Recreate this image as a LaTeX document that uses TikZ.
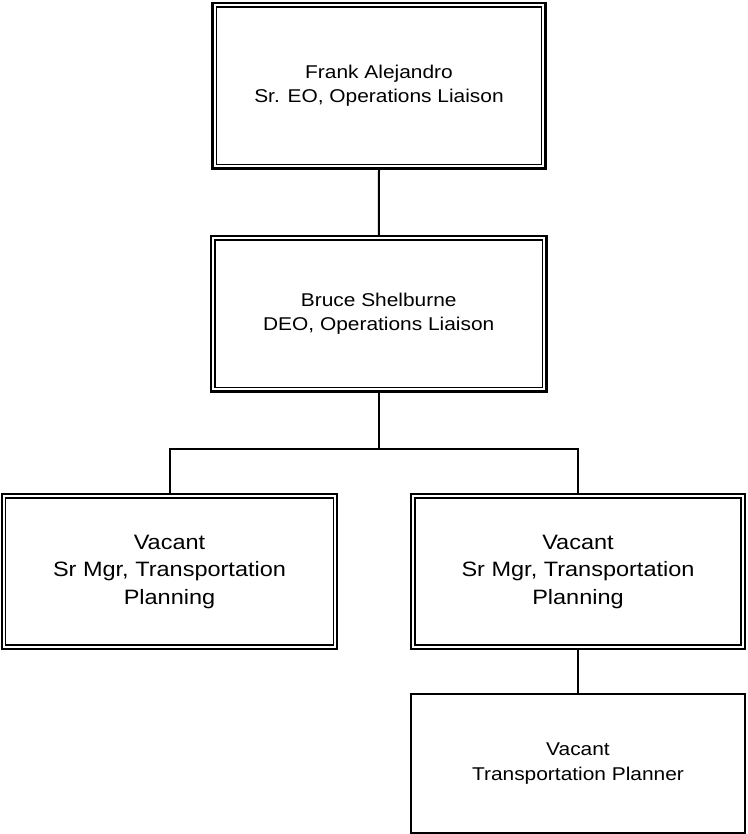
\documentclass[tikz,border=0pt]{standalone}
\usepackage{fontspec}
\setmainfont{Liberation Sans}
\newfontfamily\boxfont[FakeStretch=1.13]{Liberation Sans}
\begin{document}
\begin{tikzpicture}[x=1pt,y=-1pt,
  dbox/.style={draw, line width=2.2pt, inner sep=0pt, align=center,
    font=\boxfont\fontsize{18.5}{24}\selectfont},
  vbox/.style={dbox, font=\boxfont\fontsize{20.8}{27.5}\selectfont},
  sbox/.style={draw, line width=2pt, inner sep=0pt, align=center,
    font=\boxfont\fontsize{18.5}{25}\selectfont},
  innerline/.style={line width=1.6pt},
  conn/.style={line width=2pt}]
\useasboundingbox (0,0) rectangle (747,834);
\node[dbox, minimum width=333pt, minimum height=165.5pt] (b1) at (379,85.75)
  {Frank Alejandro\\Sr. EO, Operations Liaison};
\node[dbox, minimum width=335.5pt, minimum height=155.5pt] (b2) at (378.75,313.75)
  {Bruce Shelburne\\DEO, Operations Liaison};
\node[vbox, minimum width=335.5pt, minimum height=155pt] (b3) at (169.5,571.5)
  {Vacant\\Sr Mgr, Transportation\\Planning};
\node[vbox, minimum width=334pt, minimum height=155pt] (b4) at (578,571.5)
  {Vacant\\Sr Mgr, Transportation\\Planning};
\node[sbox, minimum width=334pt, minimum height=139pt] (b5) at (578,763.5)
  {Vacant\\Transportation Planner};
\foreach \b in {b1,b2,b3,b4}
  \draw[innerline] ([shift={(5pt,-5pt)}]\b.north west) rectangle ([shift={(-5pt,5pt)}]\b.south east);
\coordinate (j) at (378.75,449);
\draw[conn] (b1.south) -- (b2.north);
\draw[conn] (b2.south) -- (j);
\draw[conn] (b3.north) |- (j) -| (b4.north);
\draw[conn] (b4.south) -- (b5.north);
\end{tikzpicture}
\end{document}
